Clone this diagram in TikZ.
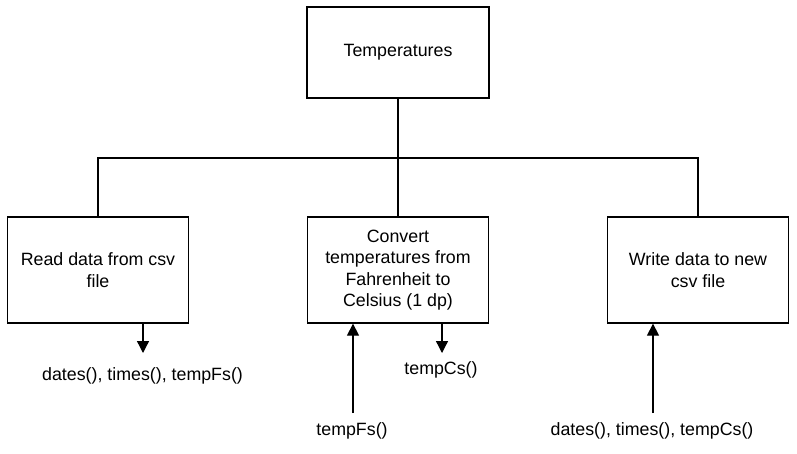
\documentclass[tikz,border=0pt]{standalone}
\usepackage{fontspec}
\setmainfont{Liberation Sans}
\usepackage{tikz}
\usetikzlibrary{arrows.meta,positioning}

\begin{document}
\begin{tikzpicture}[x=1pt, y=-1pt, line width=1.3pt,
	box/.style={draw, rectangle, minimum width=181pt, minimum height=106pt, align=center, inner sep=0pt},
	lbl/.style={inner sep=0pt},
	flow/.style={-{Triangle[length=12pt,width=12pt]}},
	font=\fontsize{17.8}{21.5}\selectfont]
\useasboundingbox (0,0) rectangle (797,453);
% boxes
\node[box, minimum width=182pt, minimum height=91pt] (temps) at (398,52.5) {Temperatures};
\node[box] (read) at (98,270) {Read data from csv\\file};
\node[box] (conv) at (398,270) {Convert\\temperatures from\\Fahrenheit to\\Celsius (1 dp)};
\node[box] (write) at (698,270) {Write data to new\\csv file};
% tree
\coordinate (branch) at (398,158);
\draw (temps.south) -- (branch);
\draw (read.north) |- (branch) -| (write.north);
\draw (branch) -- (conv.north);
% data labels
\node[lbl] (readout) at (142.5,376) {dates(), times(), tempFs()};
\node[lbl] (fsin) at (352,431) {tempFs()};
\node[lbl] (csout) at (441,370) {tempCs()};
\node[lbl] (writein) at (652,431) {dates(), times(), tempCs()};
\coordinate (readtip) at (143,353);
\coordinate (fstail) at (353,413);
\coordinate (cstip) at (442,353);
\coordinate (cstail) at (653,413);
\draw[flow] (read.south -| readtip) -- (readtip);
\draw[flow] (fstail) -- (conv.south -| fstail);
\draw[flow] (conv.south -| cstip) -- (cstip);
\draw[flow] (cstail) -- (write.south -| cstail);
\end{tikzpicture}
\end{document}
